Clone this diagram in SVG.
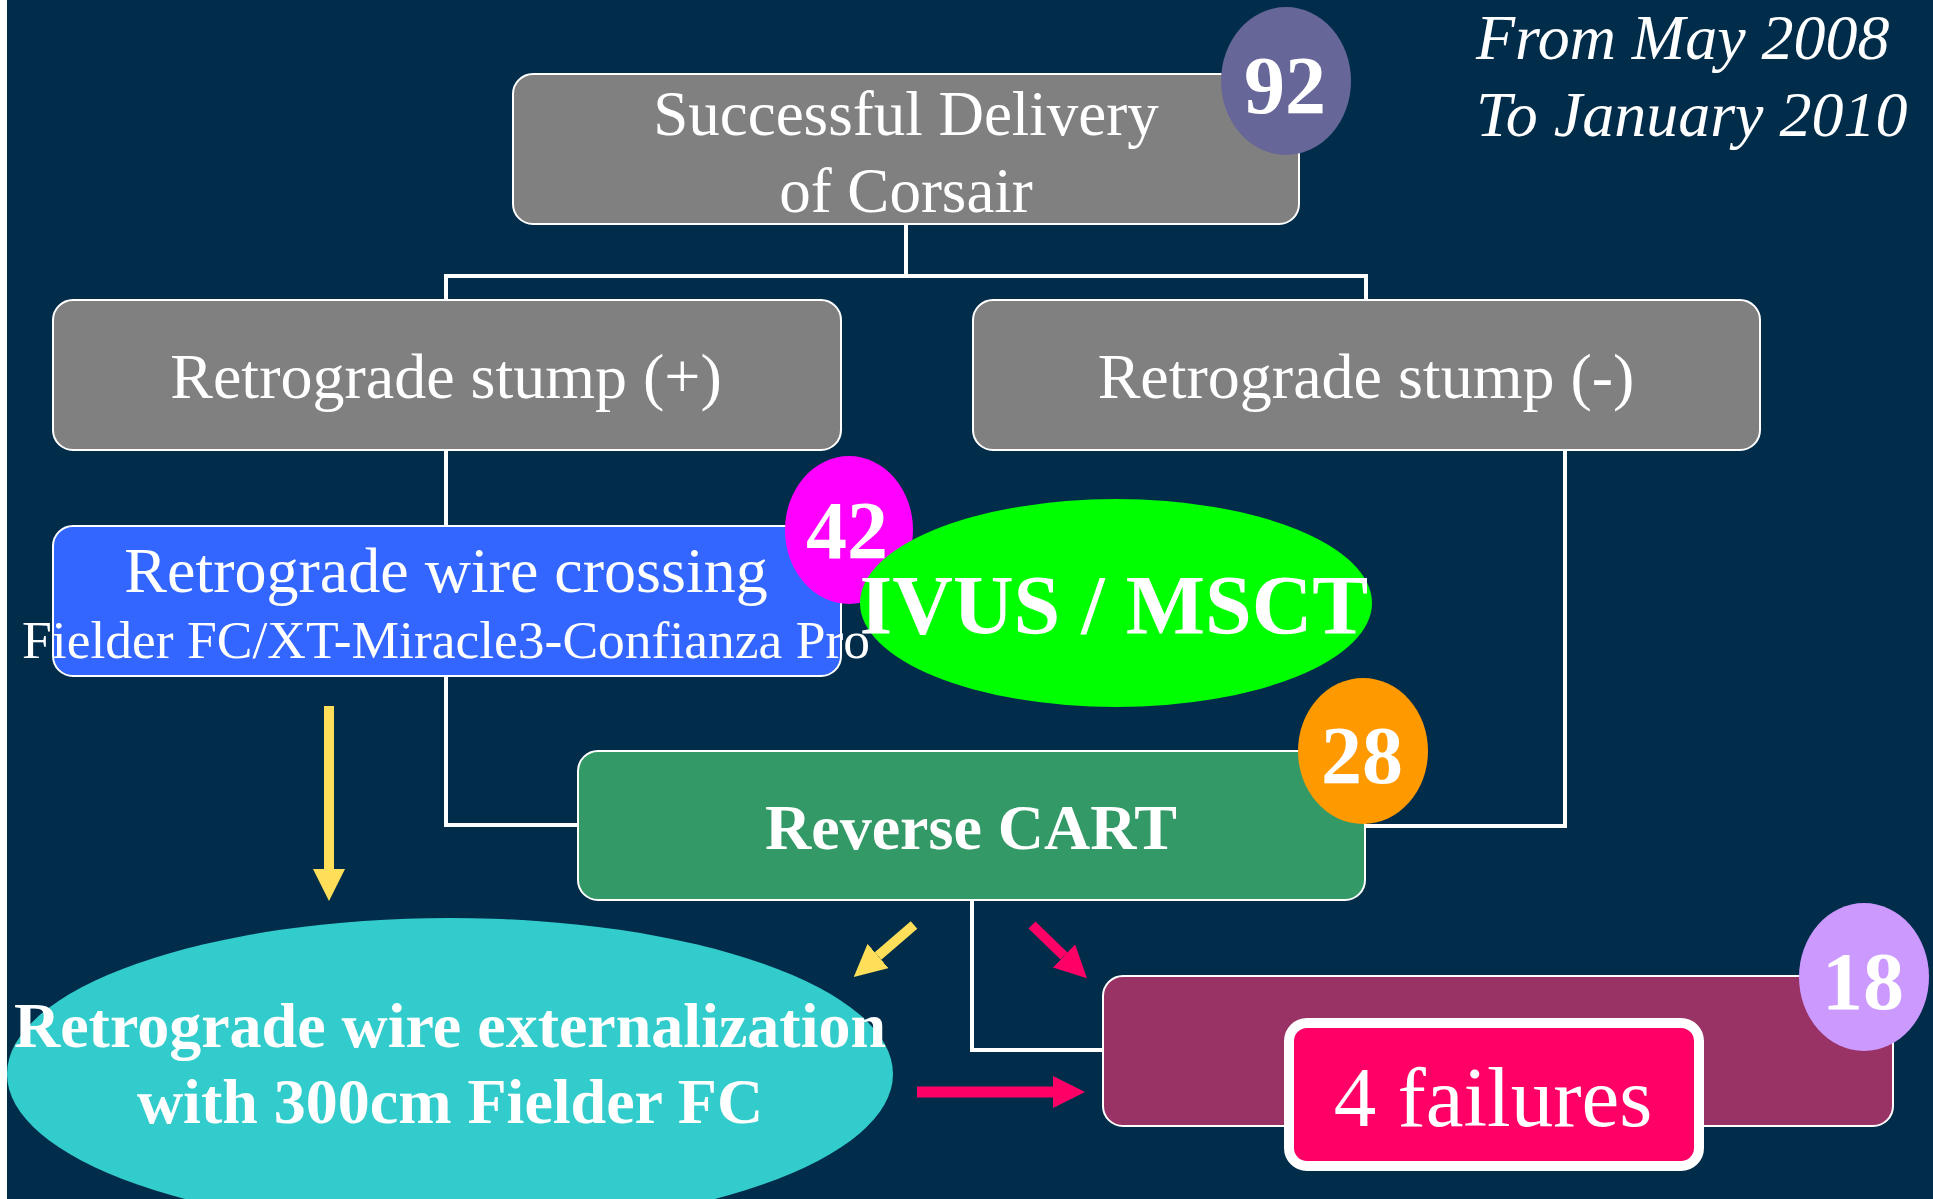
<svg xmlns="http://www.w3.org/2000/svg" width="1933" height="1199" viewBox="0 0 1933 1199">
<style>
text{font-family:"Liberation Serif","Times New Roman",serif;fill:#fff}
.box{stroke:#fff;stroke-width:2}
.conn{fill:none;stroke:#fff;stroke-width:4}
.num{font-weight:bold;font-size:82px;text-anchor:middle}
.mid{text-anchor:middle}
.b{font-weight:bold}
</style>
<defs>
<marker id="hy" markerUnits="userSpaceOnUse" markerWidth="32" markerHeight="32" viewBox="0 0 32 32" refX="0" refY="16" orient="auto"><path d="M0,0 L32,16 L0,32 z" fill="#FFDF5A"/></marker>
<marker id="hp" markerUnits="userSpaceOnUse" markerWidth="32" markerHeight="32" viewBox="0 0 32 32" refX="0" refY="16" orient="auto"><path d="M0,0 L32,16 L0,32 z" fill="#FF0066"/></marker>
</defs>
<rect x="0" y="0" width="1933" height="1199" fill="#fff"/>
<rect x="7" y="0" width="1926" height="1199" fill="#022D4A"/>

<g id="connectors">
<path class="conn" d="M906,225 V276 M446,276 H1366 M446,274 V300 M1366,274 V300"/>
<path class="conn" d="M446,450 V526"/>
<path class="conn" d="M446,676 V825 H578"/>
<path class="conn" d="M1565,450 V826 H1365"/>
<path class="conn" stroke-width="5" d="M972,900 V1050 H1103"/>
<line x1="329" y1="706" x2="329" y2="869" stroke="#FFDF5A" stroke-width="10" marker-end="url(#hy)"/>
<line x1="914" y1="925" x2="878" y2="956" stroke="#FFDF5A" stroke-width="10" marker-end="url(#hy)"/>
<line x1="1032" y1="925" x2="1064" y2="956" stroke="#FF0066" stroke-width="10" marker-end="url(#hp)"/>
<line x1="917" y1="1092" x2="1053" y2="1092" stroke="#FF0066" stroke-width="11" marker-end="url(#hp)"/>
</g>

<g id="date">
<text x="1476" y="59" font-size="64" font-style="italic">From May 2008</text>
<text x="1476" y="136" font-size="64" font-style="italic">To January 2010</text>
</g>

<g id="top">
<rect class="box" x="513" y="74" width="786" height="150" rx="20" fill="#808080"/>
<text class="mid" x="906" y="135" font-size="63">Successful Delivery</text>
<text class="mid" x="906" y="212" font-size="63">of Corsair</text>
</g>
<g id="n92">
<ellipse cx="1286" cy="81" rx="65" ry="74" fill="#666699"/>
<text class="num" x="1285" y="113">92</text>
</g>

<g id="stump-plus">
<rect class="box" x="53" y="300" width="788" height="150" rx="20" fill="#808080"/>
<text class="mid" x="446" y="398" font-size="64">Retrograde stump (+)</text>
</g>
<g id="stump-minus">
<rect class="box" x="973" y="300" width="787" height="150" rx="20" fill="#808080"/>
<text class="mid" x="1366" y="398" font-size="64">Retrograde stump (-)</text>
</g>

<g id="wire-crossing">
<rect class="box" x="53" y="526" width="788" height="150" rx="20" fill="#3366FF"/>
<text class="mid" x="446" y="592" font-size="64">Retrograde wire crossing</text>
</g>
<g id="n42">
<ellipse cx="849" cy="530" rx="64" ry="74" fill="#FF00FF"/>
<text class="num" x="847" y="558">42</text>
</g>
<g id="ivus">
<ellipse cx="1116" cy="603" rx="256" ry="104" fill="#00FF00"/>
<text class="mid b" x="1114" y="634" font-size="84">IVUS / MSCT</text>
</g>
<text class="mid" x="446" y="658" font-size="53.5">Fielder FC/XT-Miracle3-Confianza Pro</text>

<g id="reverse-cart">
<rect class="box" x="578" y="751" width="787" height="149" rx="20" fill="#339966"/>
<text class="mid b" x="971" y="849" font-size="64">Reverse CART</text>
</g>
<g id="n28">
<ellipse cx="1363" cy="751" rx="65" ry="73" fill="#FF9900"/>
<text class="num" x="1362" y="783">28</text>
</g>

<g id="externalization">
<ellipse cx="450" cy="1074" rx="443" ry="156" fill="#33CCCC"/>
<text class="mid b" x="450" y="1047" font-size="64">Retrograde wire externalization</text>
<text class="mid b" x="450" y="1123" font-size="64">with 300cm Fielder FC</text>
</g>

<g id="result">
<rect class="box" x="1103" y="976" width="790" height="150" rx="20" fill="#993366"/>
</g>
<g id="failures">
<rect x="1289" y="1023" width="410" height="143" rx="18" fill="#FF0066" stroke="#fff" stroke-width="10"/>
<text class="mid" x="1493" y="1126" font-size="85">4 failures</text>
</g>
<g id="n18">
<ellipse cx="1864" cy="977" rx="65" ry="74" fill="#CC99FF"/>
<text class="num" x="1863" y="1009">18</text>
</g>
</svg>
